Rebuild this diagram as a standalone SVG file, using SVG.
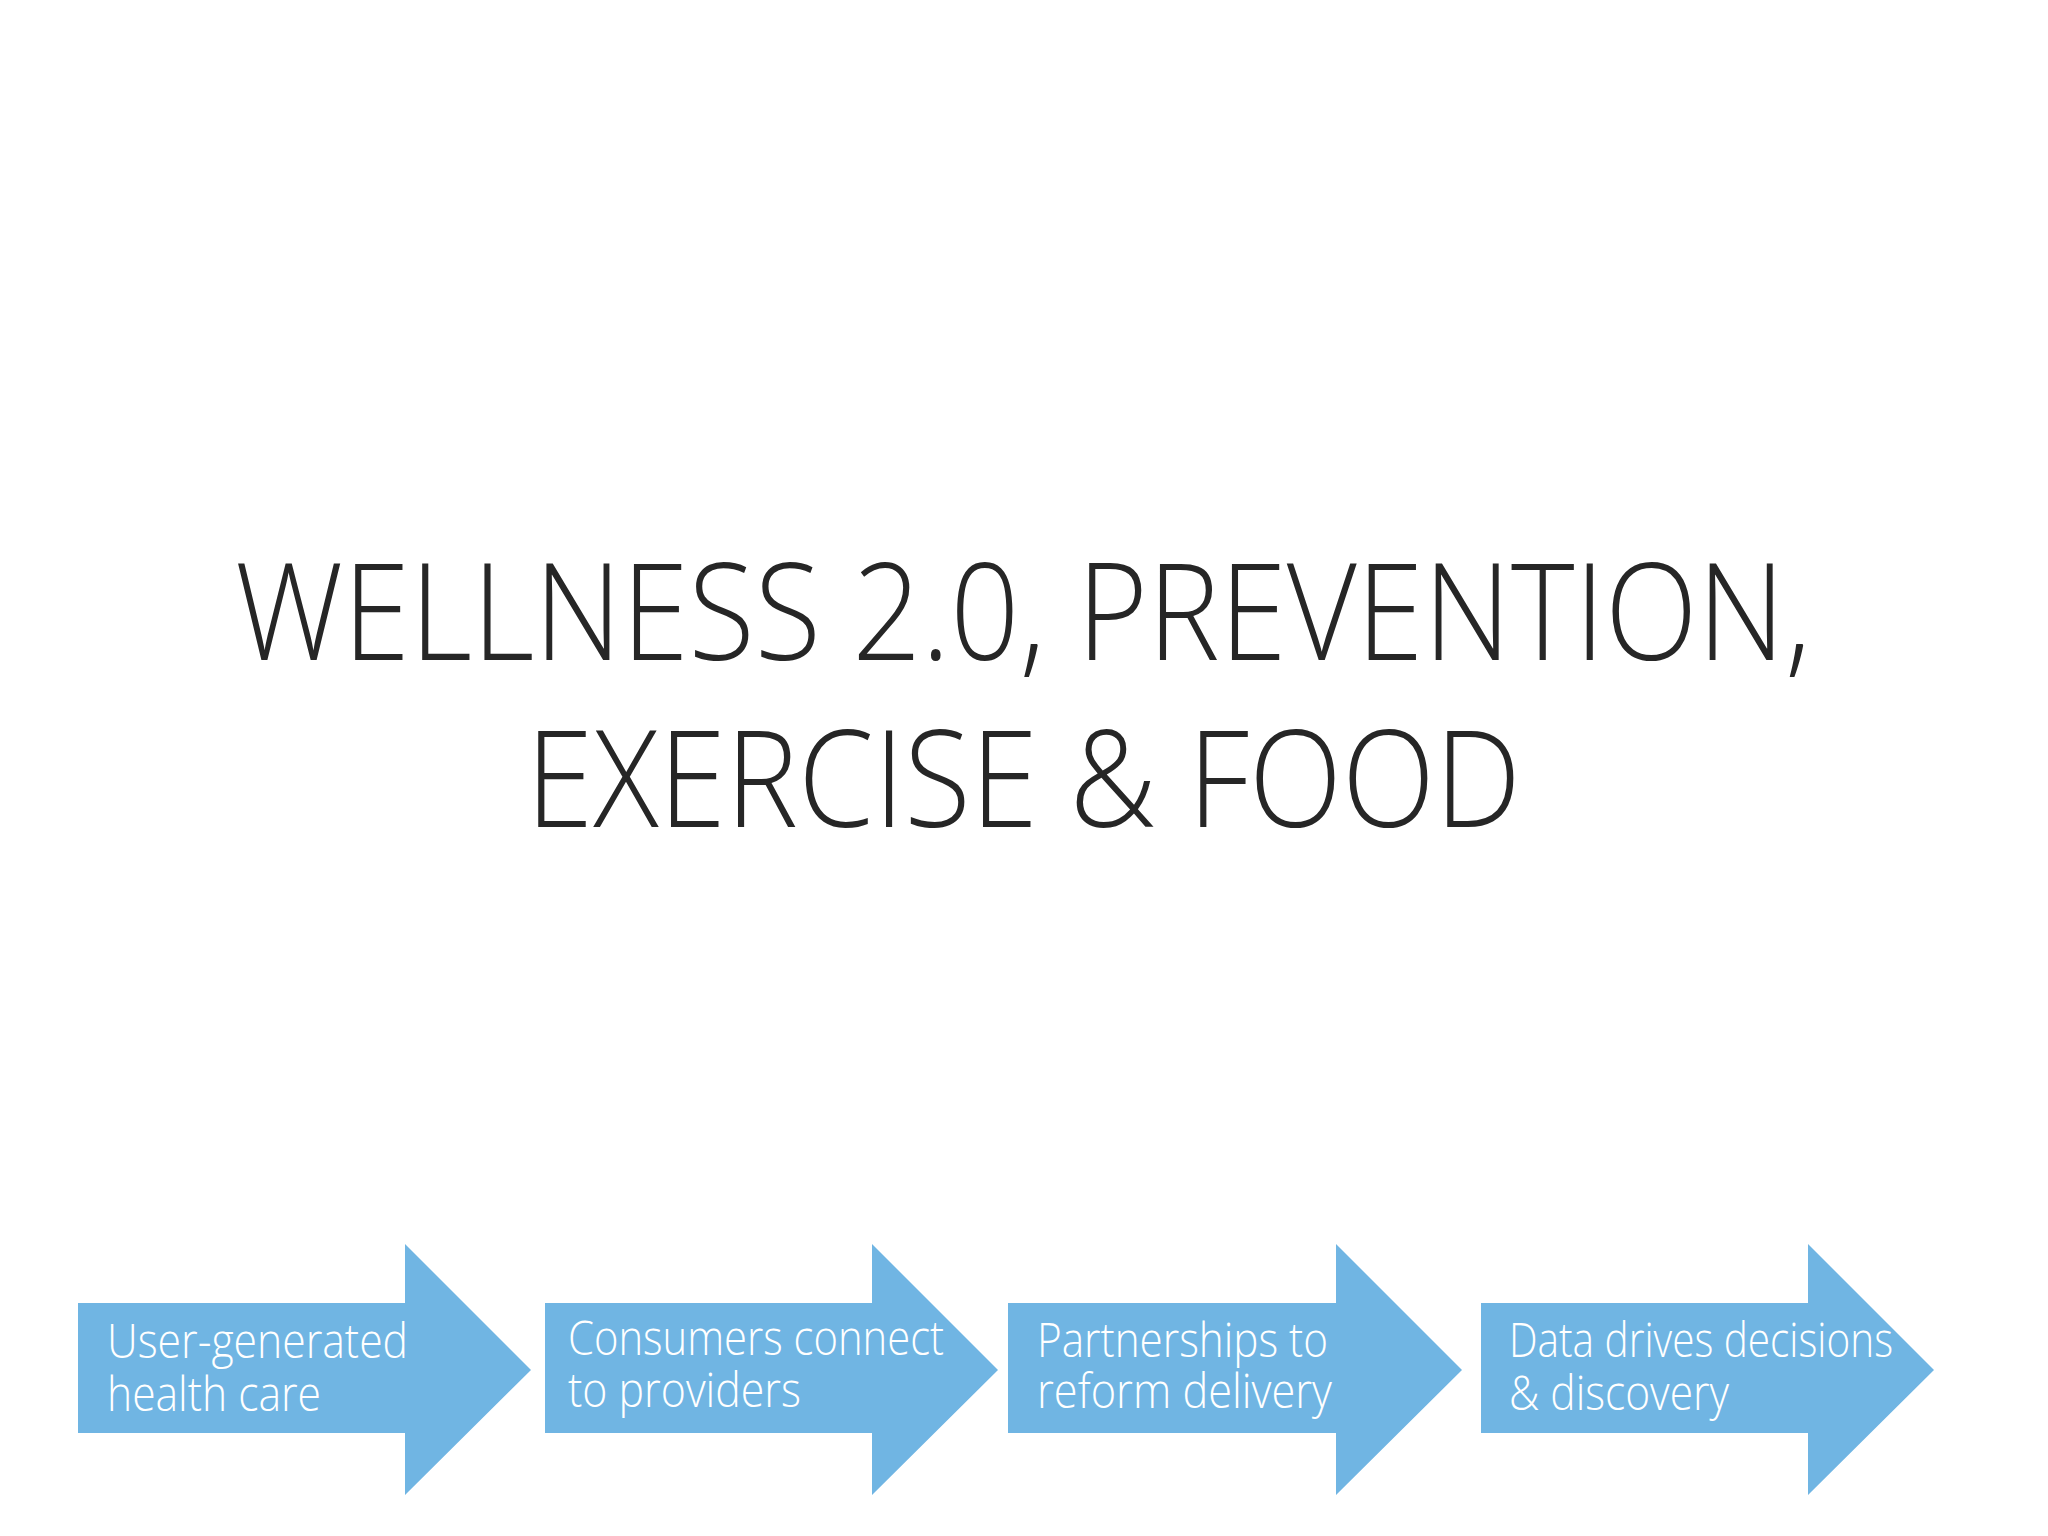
<svg xmlns="http://www.w3.org/2000/svg" width="2048" height="1536" viewBox="0 0 2048 1536">
<style>
.title{font-family:"Open Sans","Liberation Sans",sans-serif;font-weight:300;font-size:134px;fill:#262626;text-anchor:start}
.lbl{font-family:"Open Sans","Liberation Sans",sans-serif;font-weight:300;font-size:48px;fill:#ffffff}
.arr{fill:#70b5e3}
</style>
<rect width="2048" height="1536" fill="#ffffff"/>
<g id="title">
<text class="title" x="235" y="660" textLength="1576" lengthAdjust="spacingAndGlyphs">WELLNESS 2.0, PREVENTION,</text>
<text class="title" x="526" y="827" textLength="995" lengthAdjust="spacingAndGlyphs">EXERCISE &amp; FOOD</text>
</g>
<g id="connectors"/>
<g id="step1">
<path class="arr" d="M78,1303 H405 V1244 L531,1370 L405,1495 V1433 H78 Z"/>
<text class="lbl" x="107" y="1358" textLength="301" lengthAdjust="spacingAndGlyphs">User-generated</text>
<text class="lbl" x="107" y="1411" textLength="214" lengthAdjust="spacingAndGlyphs">health care</text>
</g>
<g id="step2">
<path class="arr" d="M545,1303 H872 V1244 L998,1370 L872,1495 V1433 H545 Z"/>
<text class="lbl" x="568" y="1355" textLength="376" lengthAdjust="spacingAndGlyphs">Consumers connect</text>
<text class="lbl" x="568" y="1407" textLength="233" lengthAdjust="spacingAndGlyphs">to providers</text>
</g>
<g id="step3">
<path class="arr" d="M1008,1303 H1336 V1244 L1462,1370 L1336,1495 V1433 H1008 Z"/>
<text class="lbl" x="1037" y="1357" textLength="291" lengthAdjust="spacingAndGlyphs">Partnerships to</text>
<text class="lbl" x="1037" y="1408" textLength="295" lengthAdjust="spacingAndGlyphs">reform delivery</text>
</g>
<g id="step4">
<path class="arr" d="M1481,1303 H1808 V1244 L1934,1370 L1808,1495 V1433 H1481 Z"/>
<text class="lbl" x="1509" y="1357" textLength="384" lengthAdjust="spacingAndGlyphs">Data drives decisions</text>
<text class="lbl" x="1509" y="1410" textLength="220" lengthAdjust="spacingAndGlyphs">&amp; discovery</text>
</g>
</svg>
